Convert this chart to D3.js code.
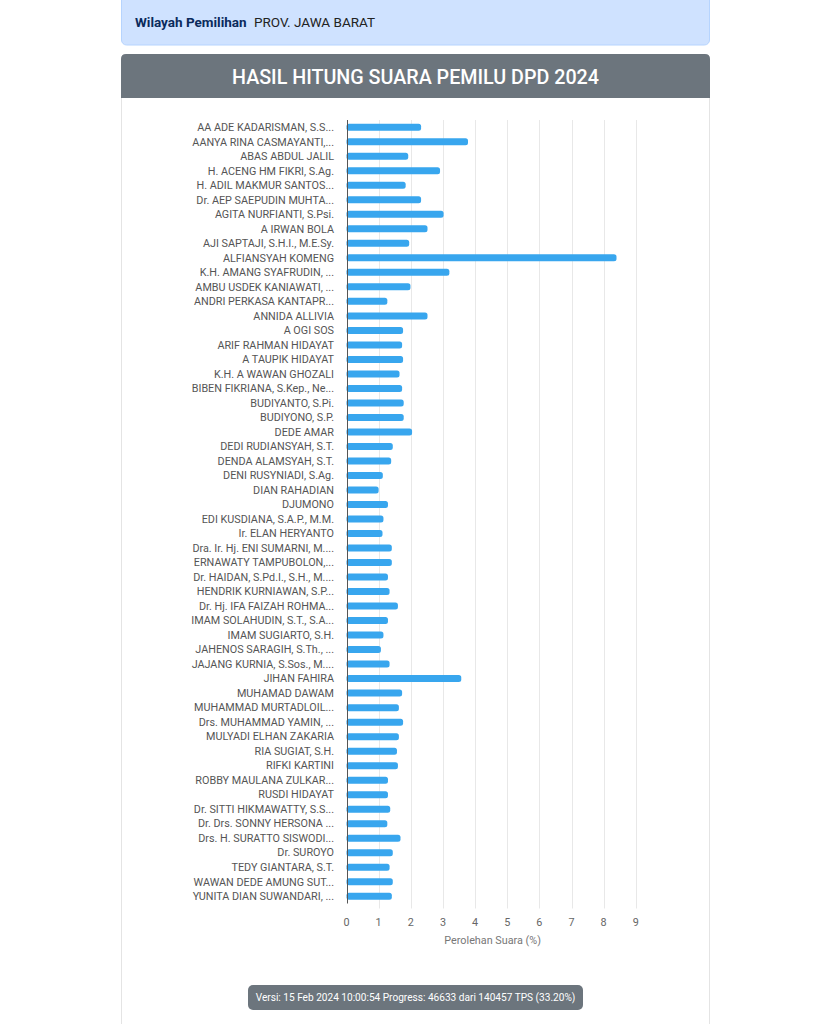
<!DOCTYPE html>
<html><head><meta charset="utf-8">
<script src="https://cdn.jsdelivr.net/npm/d3@7"></script>
<style>
html,body{margin:0;padding:0;background:#fff;}
svg{display:block;font-family:Roboto,"Noto Sans",sans-serif;}
</style></head>
<body>
<svg id="chart" width="830" height="1024"></svg>
<script>
const candidates = [
"AA ADE KADARISMAN, S.S...","AANYA RINA CASMAYANTI,...","ABAS ABDUL JALIL","H. ACENG HM FIKRI, S.Ag.",
"H. ADIL MAKMUR SANTOS...","Dr. AEP SAEPUDIN MUHTA...","AGITA NURFIANTI, S.Psi.","A IRWAN BOLA",
"AJI SAPTAJI, S.H.I., M.E.Sy.","ALFIANSYAH KOMENG","K.H. AMANG SYAFRUDIN, ...","AMBU USDEK KANIAWATI, ...",
"ANDRI PERKASA KANTAPR...","ANNIDA ALLIVIA","A OGI SOS","ARIF RAHMAN HIDAYAT","A TAUPIK HIDAYAT",
"K.H. A WAWAN GHOZALI","BIBEN FIKRIANA, S.Kep., Ne...","BUDIYANTO, S.Pi.","BUDIYONO, S.P.","DEDE AMAR",
"DEDI RUDIANSYAH, S.T.","DENDA ALAMSYAH, S.T.","DENI RUSYNIADI, S.Ag.","DIAN RAHADIAN","DJUMONO",
"EDI KUSDIANA, S.A.P., M.M.","Ir. ELAN HERYANTO","Dra. Ir. Hj. ENI SUMARNI, M....","ERNAWATY TAMPUBOLON,...",
"Dr. HAIDAN, S.Pd.I., S.H., M....","HENDRIK KURNIAWAN, S.P...","Dr. Hj. IFA FAIZAH ROHMA...",
"IMAM SOLAHUDIN, S.T., S.A...","IMAM SUGIARTO, S.H.","JAHENOS SARAGIH, S.Th., ...","JAJANG KURNIA, S.Sos., M....",
"JIHAN FAHIRA","MUHAMAD DAWAM","MUHAMMAD MURTADLOIL...","Drs. MUHAMMAD YAMIN, ...","MULYADI ELHAN ZAKARIA",
"RIA SUGIAT, S.H.","RIFKI KARTINI","ROBBY MAULANA ZULKAR...","RUSDI HIDAYAT","Dr. SITTI HIKMAWATTY, S.S...",
"Dr. Drs. SONNY HERSONA ...","Drs. H. SURATTO SISWODI...","Dr. SUROYO","TEDY GIANTARA, S.T.",
"WAWAN DEDE AMUNG SUT...","YUNITA DIAN SUWANDARI, ..."
];
const votePct = [
2.32,3.78,1.92,2.91,1.84,2.32,3.02,2.52,1.95,8.40,3.20,1.99,1.27,2.52,1.76,1.73,1.76,1.65,1.73,1.78,1.78,2.04,
1.44,1.39,1.13,1.00,1.29,1.15,1.12,1.41,1.41,1.29,1.34,1.60,1.29,1.15,1.07,1.34,3.57,1.73,1.63,1.76,1.63,1.57,1.60,
1.29,1.29,1.36,1.27,1.68,1.44,1.34,1.44,1.41
];
const xTicks = [0,1,2,3,4,5,6,7,8,9];
const regionLabel = "Wilayah Pemilihan";
const regionName = "PROV. JAWA BARAT";
const chartTitle = "HASIL HITUNG SUARA PEMILU DPD 2024";
const axisTitle = "Perolehan Suara (%)";
const footerText = "Versi: 15 Feb 2024 10:00:54 Progress: 46633 dari 140457 TPS (33.20%)";

const svg = d3.select("#chart");

// container / cards
const cx0 = 121, cx1 = 710;
svg.append("rect").attr("x",cx0+0.5).attr("y",-6).attr("width",cx1-cx0-1).attr("height",51)
  .attr("rx",5).attr("fill","#cfe2ff").attr("stroke","#b6d4fe");
svg.append("text").attr("x",135).attr("y",27).attr("font-size",13.5).attr("font-weight","bold")
  .attr("fill","#0a2a5c").text(regionLabel);
svg.append("text").attr("x",254).attr("y",27).attr("font-size",13.5).attr("fill","#222").text(regionName);

// card body border
svg.append("path").attr("d",`M${cx0+0.5},60 V1030 M${cx1-0.5},60 V1030`).attr("stroke","#e4e4e4").attr("fill","none");
// header
svg.append("path").attr("d",`M${cx0},98 V59 Q${cx0},54 ${cx0+5},54 H${cx1-5} Q${cx1},54 ${cx1},59 V98 Z`)
  .attr("fill","#6c757d");
svg.append("text").attr("x",(cx0+cx1)/2).attr("y",79).attr("text-anchor","middle").attr("dominant-baseline","middle")
  .attr("font-size",19.7).attr("font-weight",500).attr("fill","#fff").text(chartTitle);

// plot
const plotLeft = 346.5, plotRight = 635.8, plotTop = 120, plotBottom = 903.5;
const x = d3.scaleLinear().domain([0,9]).range([plotLeft,plotRight]);
const y = d3.scaleBand().domain(candidates).range([plotTop,plotBottom]).paddingInner(0).paddingOuter(0);
const g = svg.append("g");

// grid
g.selectAll("line.grid").data(xTicks.slice(1)).join("line")
  .attr("x1",d=>Math.round(x(d))+0.5).attr("x2",d=>Math.round(x(d))+0.5)
  .attr("y1",plotTop).attr("y2",plotBottom+5).attr("stroke","#e8e8e8").attr("stroke-width",1);

// bars
const bh = 7;
g.selectAll("rect.bar").data(candidates).join("rect")
  .attr("x",x(0)).attr("y",d=>y(d)+y.bandwidth()/2-bh/2)
  .attr("width",(d,i)=>x(votePct[i])-x(0)).attr("height",bh)
  .attr("rx",2.5).attr("fill","#38a6ee");

// y axis line
g.append("line").attr("x1",Math.round(plotLeft)+0.5).attr("x2",Math.round(plotLeft)+0.5).attr("y1",plotTop).attr("y2",plotBottom)
  .attr("stroke","#555").attr("stroke-width",1);

// category labels
g.selectAll("text.cat").data(candidates).join("text")
  .attr("x",334).attr("y",d=>y(d)+y.bandwidth()/2).attr("dy","0.35em")
  .attr("text-anchor","end").attr("font-size",10.8).attr("fill","#555").text(d=>d);

// x tick labels
g.selectAll("text.tick").data(xTicks).join("text")
  .attr("x",d=>x(d)).attr("y",922).attr("dy","0.35em").attr("text-anchor","middle")
  .attr("font-size",10.8).attr("fill","#666").text(d=>d);
g.append("text").attr("x",x(4.5)+1.5).attr("y",940).attr("dy","0.35em").attr("text-anchor","middle")
  .attr("font-size",10.8).attr("fill","#777").text(axisTitle);

// footer
svg.append("rect").attr("x",248).attr("y",985).attr("width",335).attr("height",25).attr("rx",5).attr("fill","#6c757d");
svg.append("text").attr("x",415.5).attr("y",997.5).attr("dy","0.35em").attr("text-anchor","middle")
  .attr("font-size",10.1).attr("fill","#fff").text(footerText);
</script>
</body></html>
